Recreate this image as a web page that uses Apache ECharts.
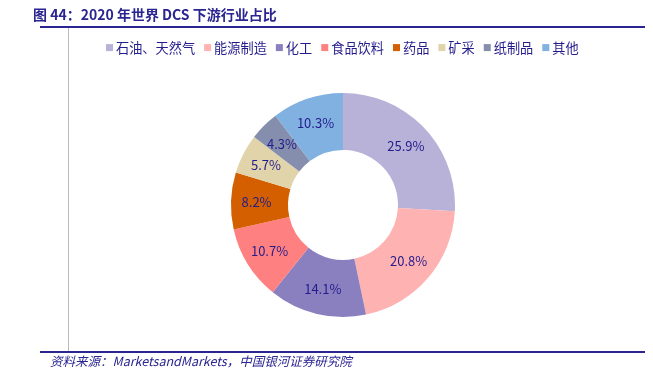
<!DOCTYPE html>
<html><head><meta charset="utf-8">
<script src="https://cdn.jsdelivr.net/npm/echarts@6/dist/echarts.min.js"></script>
<style>html,body{margin:0;padding:0;background:#fff}#c{width:653px;height:379px}</style>
</head><body><div id="c"></div>
<script>
const categories = ['石油、天然气','能源制造','化工','食品饮料','药品','矿采','纸制品','其他'];
const shares = [25.9, 20.8, 14.1, 10.7, 8.2, 5.7, 4.3, 10.3];
const colors = ['#B8B2D9','#FFB2B2','#8B80BF','#FF8080','#D35F00','#E1D3AA','#858FAD','#80B1E0'];
const titleText = '图 44：2020 年世界 DCS 下游行业占比';
const sourceText = '资料来源：MarketsandMarkets，中国银河证券研究院';

const chart = echarts.init(document.getElementById('c'), null, {renderer:'canvas'});
const navy = '#231C8C';
chart.setOption({
  animation:false,
  color: colors,
  title:{
    text: titleText, left: 28, top: 3,
    textStyle:{fontFamily:'"Noto Sans CJK SC"', fontSize:14, fontWeight:'bold', color:'#2A2590'}
  },
  legend:{
    data: categories, left: 101, top: 36,
    itemWidth:7, itemHeight:7, itemGap:9, icon:'rect',
    textStyle:{fontFamily:'"Noto Sans CJK SC"', fontSize:13.2, color:navy, padding:[0,0,0,-2]}
  },
  graphic:[
    {type:'rect', shape:{x:40,y:26,width:605,height:2}, style:{fill:'#2A2590'}},
    {type:'rect', shape:{x:40,y:351,width:605,height:2}, style:{fill:'#2A2590'}},
    {type:'line', shape:{x1:68.5,y1:28,x2:68.5,y2:351}, style:{stroke:'#BBBBBB', lineWidth:1}},
    {type:'text', left:50, top:355, style:{text:sourceText, font:'italic 12.5px "Noto Sans CJK SC"', fill:'#2A2590'}}
  ],
  series:[{
    type:'pie',
    center:[343,205],
    radius:[55,112],
    startAngle:90,
    clockwise:true,
    avoidLabelOverlap:false,
    label:{show:true, position:'inside', formatter:'{c}%', color:navy, fontSize:13, fontFamily:'"Noto Sans CJK SC"'},
    labelLine:{show:false},
    itemStyle:{borderWidth:0},
    emphasis:{disabled:true},
    data: categories.map((n,i)=>({name:n, value:shares[i]}))
  }]
});
</script></body></html>
